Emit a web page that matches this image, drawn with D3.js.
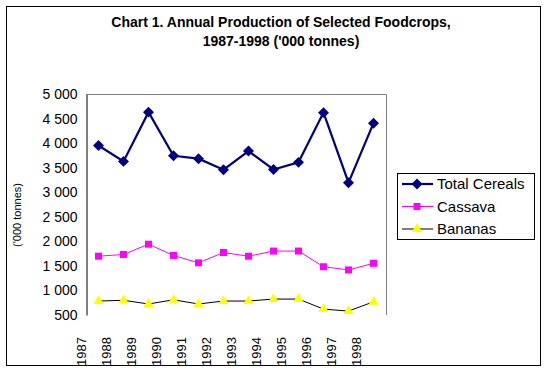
<!DOCTYPE html>
<html>
<head>
<meta charset="utf-8">
<script src="https://cdn.jsdelivr.net/npm/d3@7"></script>
<style>
  body { margin: 0; background: #fff; }
  svg { display: block; font-family: Arial, "Liberation Sans", sans-serif; }
</style>
</head>
<body>
<svg id="chart" width="547" height="374"></svg>
<script>
// chart data ('000 tonnes)
const years = ["1987", "1988", "1989", "1990", "1991", "1992", "1993", "1994", "1995", "1996", "1997", "1998"]
const cereals = [3960, 3635, 4640, 3750, 3690, 3465, 3845, 3470, 3615, 4630, 3200, 4415]
const cassava = [1700, 1735, 1945, 1715, 1565, 1775, 1700, 1805, 1805, 1485, 1420, 1555]
const bananas = [785, 800, 725, 810, 725, 785, 785, 825, 825, 620, 580, 770]
const yTicks = [500, 1000, 1500, 2000, 2500, 3000, 3500, 4000, 4500, 5000]

//diamond = square turned 45deg
const series = [
  {name: "Total Cereals", values: cereals, line: "#000080", width: 2.2, marker: d3.symbolSquare, size: 60, rot: 45, fill: "#000080"},
  {name: "Cassava", values: cassava, line: "#ff00ff", width: 1, marker: d3.symbolSquare, size: 49, rot: 0, fill: "#ff00ff"},
  {name: "Bananas", values: bananas, line: "#000000", width: 1, marker: d3.symbolTriangle, size: 45, rot: 0, fill: "#ffff00"}
]

const svg = d3.select("#chart")

//outer chart border
svg.append("rect")
  .attr("x", 6.5).attr("y", 6.5)
  .attr("width", 534).attr("height", 359)
  .attr("fill", "none").attr("stroke", "#000")

//title
const title = svg.append("text")
  .attr("text-anchor", "middle")
  .attr("font-weight", "bold")
  .attr("font-size", 14)
title.append("tspan").attr("x", 281).attr("y", 27).text("Chart 1. Annual Production of Selected Foodcrops,")
title.append("tspan").attr("x", 281).attr("y", 46).text("1987-1998 ('000 tonnes)")

const x = d3.scaleBand().domain(years).range([86, 386])
const y = d3.scaleLinear().domain([500, 5000]).range([315, 94.5])
const fmt = v => d3.format(",")(v).replace(",", " ")

//plot area: gray top/right, black value axis on the left
svg.append("path")
  .attr("d", `M86,94.5H386.5V315`)
  .attr("fill", "none").attr("stroke", "#808080")

svg.append("g")
  .attr("transform", "translate(86.5,0)")
  .call(d3.axisLeft(y).tickValues(yTicks).tickSize(0).tickPadding(9).tickFormat(fmt))
  .call(g => g.select(".domain").attr("stroke", "#000"))
  .call(g => g.selectAll("text").attr("font-size", 14).attr("font-family", "Arial, 'Liberation Sans', sans-serif").attr("fill", "#000"))

svg.append("text")
  .attr("transform", "translate(21,215) rotate(-90)")
  .attr("text-anchor", "middle")
  .attr("font-size", 11)
  .text("('000 tonnes)")

//category labels, rotated
svg.append("g")
  .selectAll("text")
  .data(years)
  .join("text")
  .attr("transform", d => `translate(${x(d) - 0.5},337) rotate(-90)`)
  .attr("text-anchor", "end")
  .attr("font-size", 13)
  .text(d => d)

const cx = (d, i) => x(years[i]) + x.bandwidth() / 2

series.forEach(s => {
  svg.append("path")
    .datum(s.values)
    .attr("fill", "none")
    .attr("stroke", s.line)
    .attr("stroke-width", s.width)
    .attr("d", d3.line().x(cx).y(d => y(d)))

  svg.append("g")
    .selectAll("path")
    .data(s.values)
    .join("path")
    .attr("transform", (d, i) => `translate(${cx(d, i)},${y(d)}) rotate(${s.rot})`)
    .attr("d", d3.symbol(s.marker, s.size))
    .attr("fill", s.fill)
})

//legend
const legend = svg.append("g")
legend.append("rect")
  .attr("x", 397.5).attr("y", 173.5)
  .attr("width", 137).attr("height", 66)
  .attr("fill", "#fff").attr("stroke", "#000")

const ly = d3.scalePoint().domain(series.map(s => s.name)).range([184, 229])
series.forEach(s => {
  const yy = ly(s.name)
  legend.append("line")
    .attr("x1", 402).attr("x2", 433)
    .attr("y1", yy).attr("y2", yy)
    .attr("stroke", s.line).attr("stroke-width", s.width)
  legend.append("path")
    .attr("transform", `translate(417,${yy}) rotate(${s.rot})`)
    .attr("d", d3.symbol(s.marker, s.size))
    .attr("fill", s.fill)
  legend.append("text")
    .attr("x", 437).attr("y", yy + 5)
    .attr("font-size", 15)
    .text(s.name)
})
</script>
</body>
</html>
